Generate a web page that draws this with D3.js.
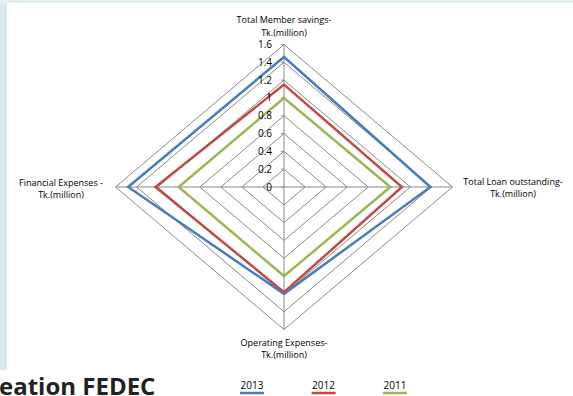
<!DOCTYPE html>
<html>
<head>
<meta charset="utf-8">
<script src="https://cdn.jsdelivr.net/npm/d3@7"></script>
<style>
  body { margin: 0; background: #fff; }
  svg { display: block; font-family: "Open Sans", sans-serif; }
  .axis-label { font-size: 9px; fill: #000; }
  .tick-label { font-size: 10px; fill: #000; }
  .legend-label { font-size: 10px; fill: #000; }
</style>
</head>
<body>
<script>
// radar of FEDEC figures, Tk. million
const axes = [
  ["Total Member savings-", "Tk.(million)"],
  ["Total Loan outstanding-", "Tk.(million)"],
  ["Operating Expenses-", "Tk.(million)"],
  ["Financial Expenses -", "Tk.(million)"]
];
const years = ["2013", "2012", "2011"];
const values2013 = [1.46, 1.39, 1.2, 1.48];
const values2012 = [1.15, 1.12, 1.18, 1.22];
const values2011 = [1.0, 1.01, 1.0, 1.0];
const ticks = [0, 0.2, 0.4, 0.6, 0.8, 1, 1.2, 1.4, 1.6];
const colors = ["#4a7ebb", "#be4b48", "#98b954"];

const series = [values2013, values2012, values2011];

const width = 573, height = 396;
const cx = 284, cy = 187;

const svg = d3.select("body").append("svg")
  .attr("width", width)
  .attr("height", height);

// slide background edges
svg.append("rect").attr("width", 7).attr("height", 370).attr("fill", "#d7eaf0");
svg.append("rect").attr("width", width).attr("height", 3).attr("fill", "#e2eff3");

const rx = d3.scaleLinear().domain([0, 1.6]).range([0, 168.5]);
const ry = d3.scaleLinear().domain([0, 1.6]).range([0, 142.5]);

// direction of each spoke: up, right, down, left
const dirs = [[0, -1], [1, 0], [0, 1], [-1, 0]];
const point = (v, i) => [cx + dirs[i][0] * rx(v), cy + dirs[i][1] * ry(v)];

const chart = svg.append("g");

// grid rings
chart.selectAll(".ring")
  .data(ticks.slice(1))
  .join("polygon")
  .attr("class", "ring")
  .attr("points", t => axes.map((a, i) => point(t, i).join(",")).join(" "))
  .attr("fill", "none")
  .attr("stroke", "#8a8a8a")
  .attr("stroke-width", 1);

// spokes
chart.selectAll(".spoke")
  .data(axes)
  .join("line")
  .attr("class", "spoke")
  .attr("x1", cx).attr("y1", cy)
  .attr("x2", (a, i) => point(1.6, i)[0])
  .attr("y2", (a, i) => point(1.6, i)[1])
  .attr("stroke", "#8a8a8a");

// little tick marks on the value axis
chart.selectAll(".tick-mark")
  .data(ticks)
  .join("line")
  .attr("x1", cx - 3).attr("x2", cx)
  .attr("y1", t => cy - ry(t))
  .attr("y2", t => cy - ry(t))
  .attr("stroke", "#8a8a8a");

// series
chart.selectAll(".series")
  .data(series)
  .join("polygon")
  .attr("class", "series")
  .attr("points", s => s.map((v, i) => point(v, i).join(",")).join(" "))
  .attr("fill", "none")
  .attr("stroke", (s, i) => colors[i])
  .attr("stroke-width", 2.5)
  .attr("stroke-linejoin", "miter");

// tick labels
chart.selectAll(".tick-label")
  .data(ticks)
  .join("text")
  .attr("class", "tick-label")
  .attr("x", cx - 12)
  .attr("y", t => cy - ry(t) + 3.5)
  .attr("text-anchor", "end")
  .text(t => t);

// axis labels, two lines each
const labelPos = [[284, 23], [513, 184.5], [284, 345.5], [61, 185.5]];
const labelLines = axes.flatMap((a, i) =>
  a.map((str, j) => ({ str, x: labelPos[i][0], y: labelPos[i][1] + j * 12.5 })));

chart.selectAll(".axis-label")
  .data(labelLines)
  .join("text")
  .attr("class", "axis-label")
  .attr("text-anchor", "middle")
  .attr("x", d => d.x)
  .attr("y", d => d.y)
  .text(d => d.str);

// legend
const legendX = d3.scalePoint().domain(years).range([252, 395]);
const legend = svg.selectAll(".legend")
  .data(years)
  .join("g")
  .attr("transform", d => `translate(${legendX(d)},0)`);

legend.append("text")
  .attr("class", "legend-label")
  .attr("text-anchor", "middle")
  .attr("y", 389)
  .text(d => d);

legend.append("line")
  .attr("x1", -12).attr("x2", 12)
  .attr("y1", 393).attr("y2", 393)
  .attr("stroke", (d, i) => colors[i])
  .attr("stroke-width", 2.5);

// cropped slide title
svg.append("text")
  .attr("x", -1)
  .attr("y", 395)
  .attr("font-size", 24)
  .attr("font-weight", "bold")
  .attr("fill", "#222")
  .text("eation FEDEC");
</script>
</body>
</html>
